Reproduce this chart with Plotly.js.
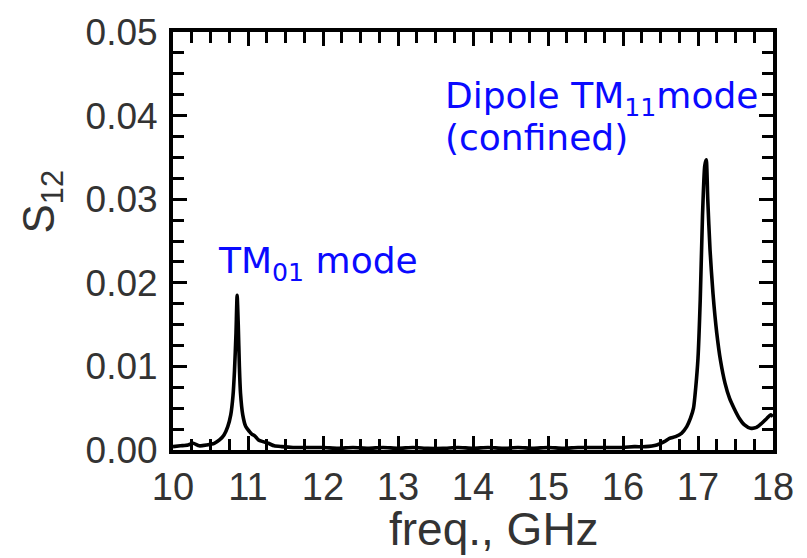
<!DOCTYPE html>
<html>
<head>
<meta charset="utf-8">
<script src="https://cdn.plot.ly/plotly-3.0.1.min.js"></script>
<style>html,body{margin:0;padding:0;background:#fff;}#chart{width:807px;height:558px;}</style>
</head>
<body>
<div id="chart"></div>
<script>
// frequency (GHz)
const freq = [10.00,10.10,10.20,10.27,10.35,10.45,10.55,10.62,10.68,10.73,10.77,10.80,10.82,10.84,10.855,10.87,10.885,10.90,10.93,10.97,11.02,11.05,11.09,11.14,11.20,11.27,11.35,11.45,11.60,11.80,12.00,12.20,12.40,12.60,12.80,13.00,13.20,13.40,13.60,13.80,14.00,14.20,14.40,14.60,14.80,15.00,15.20,15.40,15.60,15.80,16.00,16.15,16.30,16.45,16.55,16.62,16.70,16.78,16.85,16.90,16.94,16.97,17.00,17.03,17.06,17.09,17.11,17.13,17.16,17.20,17.25,17.30,17.36,17.42,17.48,17.55,17.62,17.70,17.78,17.85,17.92,17.97,18.00];
// transmission S12
const s12 = [0.0004,0.0005,0.0006,0.0008,0.0005,0.0006,0.0008,0.0012,0.0018,0.0028,0.0042,0.0065,0.0095,0.0140,0.0185,0.0150,0.0100,0.0068,0.0042,0.0028,0.0022,0.0019,0.0017,0.0012,0.0010,0.0008,0.0005,0.0004,0.0003,0.0003,0.0003,0.0002,0.0003,0.0002,0.0003,0.0002,0.0003,0.0002,0.0002,0.0003,0.0002,0.0003,0.0002,0.0003,0.0002,0.0003,0.0002,0.0003,0.0003,0.0003,0.0003,0.0004,0.0004,0.0006,0.0010,0.0014,0.0016,0.0020,0.0028,0.0038,0.0050,0.0075,0.0110,0.0180,0.0280,0.0340,0.0347,0.0300,0.0240,0.0187,0.0140,0.0107,0.0080,0.0062,0.0050,0.0038,0.0030,0.0026,0.0027,0.0032,0.0038,0.0042,0.0040];

const xTitle = 'freq., GHz';
const yTitle = 'S<sub>12</sub>';
const label1 = 'TM<sub>01</sub> mode';
const label2a = 'Dipole TM<sub>11</sub>mode';
const label2b = '(confined)';

const txtColor = '#333';
const tickFont = {family: 'Liberation Sans, Arial, sans-serif', size: 38, color: txtColor};
const annFont = {family: 'DejaVu Sans, Verdana, sans-serif', size: 36, color: '#0a0aff'};

const data = [{
  x: freq, y: s12, type: 'scatter', mode: 'lines',
  line: {color: '#000', width: 3.6, shape: 'spline', smoothing: 0.6},
  hoverinfo: 'skip', showlegend: false
}];

const layout = {
  width: 807, height: 558,
  margin: {l: 173, r: 34, t: 32, b: 108, pad: 0},
  paper_bgcolor: '#fff', plot_bgcolor: '#fff',
  showlegend: false,
  xaxis: {
    range: [10, 18], tick0: 10, dtick: 1, autorange: false,
    ticks: 'inside', ticklen: 14, tickwidth: 3, tickcolor: '#000',
    showline: true, linewidth: 4, linecolor: '#000', mirror: 'ticks',
    minor: {dtick: 0.25, ticks: 'inside', ticklen: 11, tickwidth: 3, tickcolor: '#000', showgrid: false},
    showgrid: false, zeroline: false,
    tickfont: tickFont
  },
  yaxis: {
    range: [0, 0.05], tick0: 0, dtick: 0.01, tickformat: '.2f', autorange: false,
    ticks: 'inside', ticklen: 14, tickwidth: 3, tickcolor: '#000',
    showline: true, linewidth: 4, linecolor: '#000', mirror: 'ticks',
    minor: {dtick: 0.0025, ticks: 'inside', ticklen: 11, tickwidth: 3, tickcolor: '#000', showgrid: false},
    showgrid: false, zeroline: false,
    tickfont: {family: 'Liberation Sans, Arial, sans-serif', size: 37, color: txtColor},
    ticklabelstandoff: 4
  },
  annotations: [
    {x: -0.218, y: 0.595, xref: 'paper', yref: 'paper', xanchor: 'center', yanchor: 'middle', textangle: -90,
     text: yTitle, showarrow: false, font: {family: 'Liberation Sans, Arial, sans-serif', size: 44, color: txtColor}},
    {x: 0.535, y: -0.19, xref: 'paper', yref: 'paper', xanchor: 'center', yanchor: 'middle',
     text: xTitle, showarrow: false, font: {family: 'Liberation Sans, Arial, sans-serif', size: 46, color: txtColor}},
    {x: 10.57, y: 0.0223, xref: 'x', yref: 'y', xanchor: 'left', yanchor: 'middle', text: label1, showarrow: false, font: annFont},
    {x: 13.60, y: 0.0420, xref: 'x', yref: 'y', xanchor: 'left', yanchor: 'middle', text: label2a, showarrow: false, font: annFont},
    {x: 13.60, y: 0.0374, xref: 'x', yref: 'y', xanchor: 'left', yanchor: 'middle', text: label2b, showarrow: false, font: annFont}
  ]
};

Plotly.newPlot('chart', data, layout, {displayModeBar: false, staticPlot: true});
</script>
</body>
</html>
